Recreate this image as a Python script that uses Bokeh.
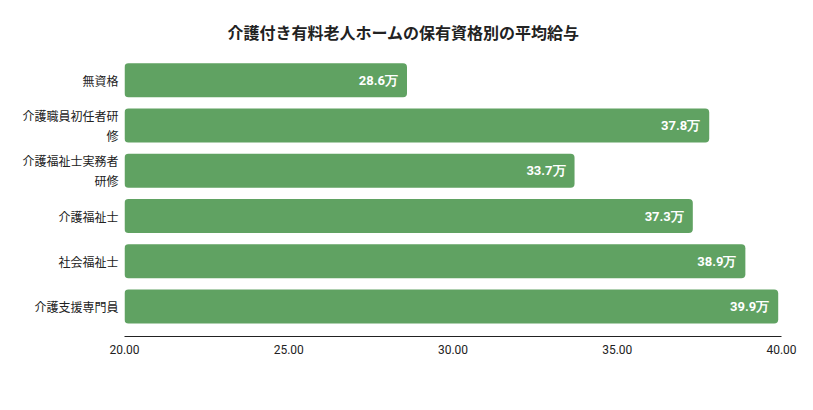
import numpy as np
from bokeh.plotting import figure
from bokeh.models import ColumnDataSource, FixedTicker, NumeralTickFormatter, Title
from bokeh.core.properties import value
from bokeh.embed import file_html
from bokeh.resources import INLINE

# --- data ---
categories = ["無資格", "介護職員初任者研\n修", "介護福祉士実務者\n研修", "介護福祉士", "社会福祉士", "介護支援専門員"]
salaries = [28.6, 37.8, 33.7, 37.3, 38.9, 39.9]
x_ticks = [20, 25, 30, 35, 40]

positions = list(range(len(categories) - 1, -1, -1))  # first category on top
labels = [f"{v}万" for v in salaries]

source = ColumnDataSource(data=dict(y=positions, right=salaries, label=labels))

p = figure(
    width=797,
    height=394,
    x_range=(20, 40),
    y_range=(-0.66, 5.5),
    output_backend="svg",
    toolbar_location=None,
    min_border_left=124,
    min_border_right=16,
    min_border_top=57,
    min_border_bottom=58,
)
p.title = None
p.add_layout(Title(text="介護付き有料老人ホームの保有資格別の平均給与", align="left",
                   text_font="Noto Sans CJK JP", text_font_size="16px", text_font_style="bold",
                   text_color="#222222", offset=103, standoff=27), "above")

p.hbar(y="y", left=20, right="right", height=0.75, source=source,
       fill_color="#60a262", line_color=None, border_radius=4)

p.text(x="right", y="y", text="label", source=source, x_offset=-9,
       text_align="right", text_baseline="middle", text_color="white",
       text_font=value("Roboto"), text_font_size="13px", text_font_style="bold")

p.xaxis.ticker = FixedTicker(ticks=x_ticks)
p.xaxis.formatter = NumeralTickFormatter(format="0.00")
p.xaxis.major_tick_line_color = None
p.xaxis.minor_tick_line_color = None
p.xaxis.major_tick_out = 0
p.xaxis.axis_line_color = "#222222"
p.xaxis.major_label_text_font = "Roboto"
p.xaxis.major_label_text_font_size = "12px"
p.xaxis.major_label_text_color = "#222222"
p.xaxis.major_label_standoff = 8

p.yaxis.ticker = FixedTicker(ticks=positions)
p.yaxis.major_label_overrides = {pos: cat for pos, cat in zip(positions, categories)}
p.yaxis.axis_line_color = None
p.yaxis.major_tick_line_color = None
p.yaxis.minor_tick_line_color = None
p.yaxis.major_tick_out = 0
p.yaxis.major_label_standoff = 6
p.yaxis.major_label_text_font = "Noto Sans CJK JP"
p.yaxis.major_label_text_font_size = "12px"
p.yaxis.major_label_text_color = "#222222"
p.yaxis.major_label_text_align = "right"

p.xgrid.grid_line_color = None
p.ygrid.grid_line_color = None
p.outline_line_color = None

open("out.html", "w").write(file_html(p, INLINE))
